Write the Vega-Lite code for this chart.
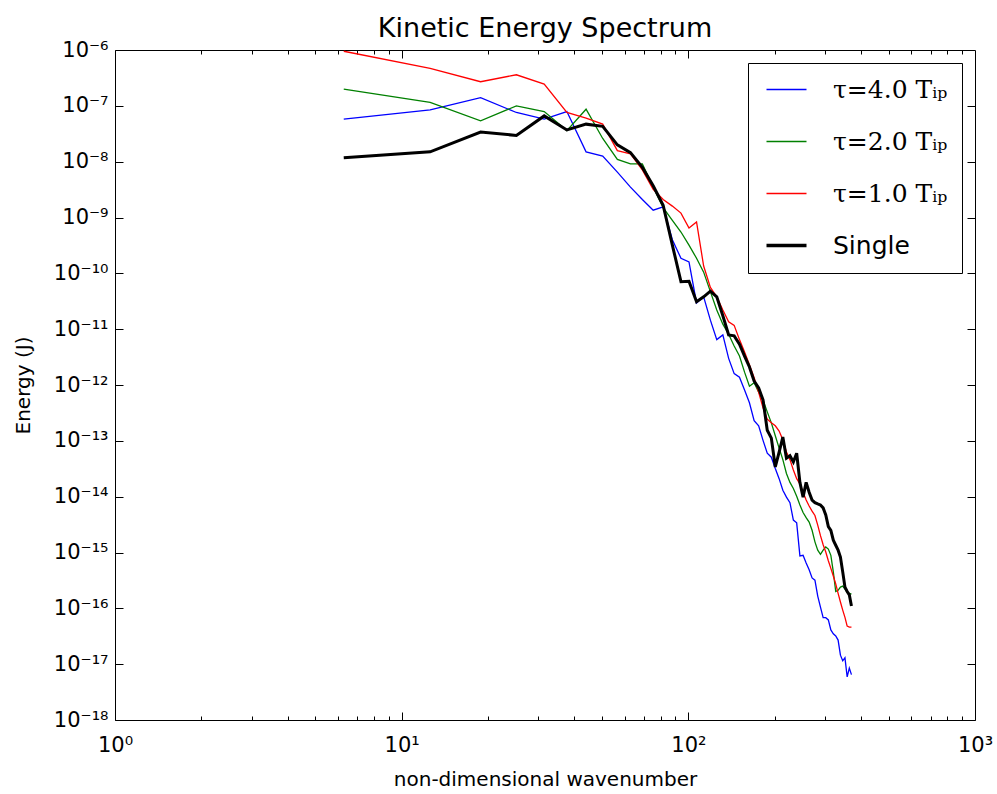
{
  "$schema": "https://vega.github.io/schema/vega-lite/v6.json",
  "autosize": "none",
  "width": 860,
  "height": 670,
  "padding": {"left": 115, "top": 50, "right": 22, "bottom": 74},
  "background": "white",
  "title": {"text": "Kinetic Energy Spectrum", "fontSize": 27, "font": "DejaVu Sans", "fontWeight": "normal", "color": "black", "offset": -4},
  "data": {"values": [
    {"k": 6.28, "t4": 5.8e-8, "t2": 2.0e-7, "t1": 9.5e-7, "s": 1.17e-8},
    {"k": 12.57, "t4": 8.5e-8, "t2": 1.15e-7, "t1": 4.7e-7, "s": 1.5e-8},
    {"k": 18.85, "t4": 1.4e-7, "t2": 5.4e-8, "t1": 2.7e-7, "s": 3.4e-8},
    {"k": 25.13, "t4": 7.6e-8, "t2": 1.0e-7, "t1": 3.6e-7, "s": 2.95e-8},
    {"k": 31.42, "t4": 5.8e-8, "t2": 7.9e-8, "t1": 2.45e-7, "s": 6.6e-8},
    {"k": 37.70, "t4": 7.9e-8, "t2": 3.6e-8, "t1": 7.6e-8, "s": 3.7e-8},
    {"k": 43.98, "t4": 1.5e-8, "t2": 8.7e-8, "t1": 6.0e-8, "s": 4.7e-8},
    {"k": 50.27, "t4": 1.26e-8, "t2": 2.6e-8, "t1": 4.7e-8, "s": 4.3e-8},
    {"k": 56.55, "t4": 6.5e-9, "t2": 1.1e-8, "t1": 1.58e-8, "s": 2.0e-8},
    {"k": 62.83, "t4": 3.5e-9, "t2": 9.1e-9, "t1": 1.38e-8, "s": 1.45e-8},
    {"k": 69.12, "t4": 2.1e-9, "t2": 9.1e-9, "t1": 7.1e-9, "s": 7.9e-9},
    {"k": 75.40, "t4": 1.35e-9, "t2": 3.5e-9, "t1": 3.2e-9, "s": 3.7e-9},
    {"k": 81.68, "t4": 1.55e-9, "t2": 1.5e-9, "t1": 2.1e-9, "s": 1.66e-9},
    {"k": 87.96, "t4": 4.0e-10, "t2": 8.9e-10, "t1": 1.6e-9, "s": 3.2e-10},
    {"k": 94.25, "t4": 1.86e-10, "t2": 5.5e-10, "t1": 1.2e-9, "s": 7.1e-11},
    {"k": 100.53, "t4": 1.6e-10, "t2": 3.2e-10, "t1": 6.5e-10, "s": 7.2e-11},
    {"k": 106.81, "t4": 2.95e-11, "t2": 1.86e-10, "t1": 8.3e-10, "s": 3.1e-11},
    {"k": 113.10, "t4": 3.8e-11, "t2": 1.05e-10, "t1": 1.35e-10, "s": 3.8e-11},
    {"k": 119.38, "t4": 1.45e-11, "t2": 4.7e-11, "t1": 5.6e-11, "s": 4.8e-11},
    {"k": 125.66, "t4": 6.5e-12, "t2": 2.2e-11, "t1": 3.8e-11, "s": 3.8e-11},
    {"k": 131.95, "t4": 7.9e-12, "t2": 1.23e-11, "t1": 2.2e-11, "s": 1.74e-11},
    {"k": 138.23, "t4": 3.0e-12, "t2": 8.1e-12, "t1": 1.35e-11, "s": 7.9e-12},
    {"k": 144.51, "t4": 1.6e-12, "t2": 5.0e-12, "t1": 1.17e-11, "s": 7.6e-12},
    {"k": 150.80, "t4": 1.38e-12, "t2": 3.3e-12, "t1": 6.5e-12, "s": 5.4e-12},
    {"k": 157.08, "t4": 8.1e-13, "t2": 1.7e-12, "t1": 3.9e-12, "s": 3.3e-12},
    {"k": 163.36, "t4": 4.8e-13, "t2": 9.5e-13, "t1": 2.3e-12, "s": 2.1e-12},
    {"k": 169.65, "t4": 2.3e-13, "t2": 1.1e-12, "t1": 1.35e-12, "s": 1.17e-12},
    {"k": 175.93, "t4": 1.86e-13, "t2": 7.4e-13, "t1": 7.4e-13, "s": 8.9e-13},
    {"k": 182.21, "t4": 1.02e-13, "t2": 5.4e-13, "t1": 3.9e-13, "s": 5.4e-13},
    {"k": 188.50, "t4": 6.0e-14, "t2": 3.3e-13, "t1": 2.45e-13, "s": 1.55e-13},
    {"k": 194.78, "t4": 5.1e-14, "t2": 2.1e-13, "t1": 2.1e-13, "s": 1.12e-13},
    {"k": 201.06, "t4": 3.2e-14, "t2": 1.23e-13, "t1": 1.86e-13, "s": 3.4e-14},
    {"k": 207.35, "t4": 2.1e-14, "t2": 7.4e-14, "t1": 1.5e-13, "s": 6.3e-14},
    {"k": 213.63, "t4": 1.3e-14, "t2": 4.6e-14, "t1": 1.05e-13, "s": 1.17e-13},
    {"k": 219.91, "t4": 9.8e-15, "t2": 2.6e-14, "t1": 6.3e-14, "s": 4.9e-14},
    {"k": 226.19, "t4": 7.8e-15, "t2": 1.8e-14, "t1": 4.6e-14, "s": 5.4e-14},
    {"k": 232.48, "t4": 3.8e-15, "t2": 1.4e-14, "t1": 3.0e-14, "s": 4.2e-14},
    {"k": 238.76, "t4": 3.4e-15, "t2": 1.02e-14, "t1": 2.1e-14, "s": 6.0e-14},
    {"k": 245.04, "t4": 8.7e-16, "t2": 7.1e-15, "t1": 1.7e-14, "s": 1.8e-14},
    {"k": 251.33, "t4": 8.9e-16, "t2": 5.2e-15, "t1": 1.2e-14, "s": 9.8e-15},
    {"k": 257.61, "t4": 6.5e-16, "t2": 4.2e-15, "t1": 8.7e-15, "s": 1.8e-14},
    {"k": 263.89, "t4": 4.9e-16, "t2": 3.5e-15, "t1": 6.8e-15, "s": 1.2e-14},
    {"k": 270.18, "t4": 3.5e-16, "t2": 2.5e-15, "t1": 5.5e-15, "s": 8.7e-15},
    {"k": 276.46, "t4": 3.2e-16, "t2": 1.55e-15, "t1": 4.6e-15, "s": 7.8e-15},
    {"k": 282.74, "t4": 1.66e-16, "t2": 1.1e-15, "t1": 3.1e-15, "s": 7.4e-15},
    {"k": 289.03, "t4": 1.05e-16, "t2": 9.3e-16, "t1": 2.0e-15, "s": 7.1e-15},
    {"k": 295.31, "t4": 6.8e-17, "t2": 1.1e-15, "t1": 1.38e-15, "s": 6.3e-15},
    {"k": 301.59, "t4": 6.8e-17, "t2": 1.26e-15, "t1": 1.02e-15, "s": 4.7e-15},
    {"k": 307.88, "t4": 6.2e-17, "t2": 1.15e-15, "t1": 7.1e-16, "s": 2.9e-15},
    {"k": 314.16, "t4": 4.1e-17, "t2": 8.9e-16, "t1": 5.2e-16, "s": 2.5e-15},
    {"k": 320.44, "t4": 3.5e-17, "t2": 4.5e-16, "t1": 3.8e-16, "s": 1.66e-15},
    {"k": 326.73, "t4": 3.2e-17, "t2": 2.0e-16, "t1": 2.75e-16, "s": 1.35e-15},
    {"k": 333.01, "t4": 2.7e-17, "t2": 2.1e-16, "t1": 1.86e-16, "s": 1.1e-15},
    {"k": 339.29, "t4": 1.45e-17, "t2": 2.4e-16, "t1": 1.3e-16, "s": 8.3e-16},
    {"k": 345.58, "t4": 1.15e-17, "t2": 2.5e-16, "t1": 9.3e-17, "s": 4.5e-16},
    {"k": 351.86, "t4": 1.3e-17, "t2": 2.2e-16, "t1": 6.9e-17, "s": 2.4e-16},
    {"k": 358.14, "t4": 5.9e-18, "t2": 1.95e-16, "t1": 4.8e-17, "s": 2.0e-16},
    {"k": 364.42, "t4": 8.5e-18, "t2": 1.86e-16, "t1": 4.6e-17, "s": 1.74e-16},
    {"k": 370.71, "t4": 6.5e-18, "t2": 1.8e-16, "t1": 4.6e-17, "s": 1.1e-16}
  ]},
  "transform": [{"fold": ["t4", "t2", "t1", "s"], "as": ["series", "E"]}],
  "config": {
    "view": {"stroke": "black", "strokeWidth": 1},
    "axis": {
      "grid": false, "domain": false,
      "labelFont": "DejaVu Sans", "labelFontSize": 21, "labelColor": "black",
      "tickColor": "black", "tickWidth": 1,
      "titleFont": "DejaVu Sans", "titleFontSize": 20, "titleFontWeight": "normal", "titleColor": "black"
    }
  },
  "resolve": {"axis": {"x": "independent", "y": "independent"}},
  "layer": [
    {
      "mark": {"type": "line", "clip": true},
      "encoding": {
        "x": {"field": "k", "type": "quantitative",
          "scale": {"type": "log", "domain": [1, 1000], "nice": false},
          "axis": {"orient": "bottom", "values": [1, 10, 100, 1000], "tickSize": -8, "labelPadding": 22,
            "labelExpr": "'10' + ['⁰','¹','²','³','⁴'][round(log(datum.value)/LN10)]",
            "title": "non-dimensional wavenumber", "titlePadding": 14, "labelFlush": false}},
        "y": {"field": "E", "type": "quantitative",
          "scale": {"type": "log", "domain": [1e-18, 1e-6], "nice": false},
          "axis": {"orient": "left", "values": [1e-18, 1e-17, 1e-16, 1e-15, 1e-14, 1e-13, 1e-12, 1e-11, 1e-10, 1e-9, 1e-8, 1e-7, 1e-6],
            "tickSize": -8, "labelPadding": 15, "labelFlush": false,
            "labelExpr": "'10⁻' + (round(-log(datum.value)/LN10) >= 10 ? ['⁰','¹','²','³','⁴','⁵','⁶','⁷','⁸','⁹'][floor(round(-log(datum.value)/LN10)/10)] : '') + ['⁰','¹','²','³','⁴','⁵','⁶','⁷','⁸','⁹'][round(-log(datum.value)/LN10) % 10]",
            "title": "Energy (J)", "titlePadding": 20}},
        "color": {"field": "series", "type": "nominal",
          "scale": {"domain": ["t4", "t2", "t1", "s"], "range": ["#0000ff", "#008000", "#ff0000", "#000000"]},
          "legend": {"title": null, "orient": "top-right", "offset": 13, "padding": 14, "symbolOffset": 12,
            "strokeColor": "black", "fillColor": "white", "cornerRadius": 0,
            "symbolType": "stroke", "symbolSize": 1600, "symbolStrokeWidth": 1.5,
            "labelFontSize": 25, "labelOffset": 34, "rowPadding": 26,
            "labelFont": "DejaVu Serif", "labelColor": "black",
            "labelExpr": "datum.value == 't4' ? 'τ=4.0 Tᵢₚ' : datum.value == 't2' ? 'τ=2.0 Tᵢₚ' : datum.value == 't1' ? 'τ=1.0 Tᵢₚ' : 'Single'",
            "encode": {
              "symbols": {"update": {"strokeWidth": {"signal": "datum.value == 's' ? 3.5 : 1.5"}}},
              "labels": {"update": {"font": {"signal": "datum.value == 's' ? 'DejaVu Sans' : 'DejaVu Serif'"}}}
            }}},
        "strokeWidth": {"condition": {"test": "datum.series == 's'", "value": 3}, "value": 1.3}
      }
    },
    {
      "mark": {"type": "point", "opacity": 0},
      "encoding": {
        "x": {"field": "k", "type": "quantitative", "scale": {"type": "log", "domain": [1, 1000], "nice": false},
          "axis": {"orient": "bottom", "values": [2, 3, 4, 5, 6, 7, 8, 9, 20, 30, 40, 50, 60, 70, 80, 90, 200, 300, 400, 500, 600, 700, 800, 900], "tickSize": -4, "labels": false, "title": null}},
        "y": {"field": "E", "type": "quantitative", "scale": {"type": "log", "domain": [1e-18, 1e-6], "nice": false},
          "axis": {"orient": "right", "values": [1e-17, 1e-16, 1e-15, 1e-14, 1e-13, 1e-12, 1e-11, 1e-10, 1e-9, 1e-8, 1e-7], "tickSize": -8, "labels": false, "title": null}}
      }
    },
    {
      "mark": {"type": "point", "opacity": 0},
      "encoding": {
        "x": {"field": "k", "type": "quantitative", "scale": {"type": "log", "domain": [1, 1000], "nice": false},
          "axis": {"orient": "top", "values": [10, 100], "tickSize": -8, "labels": false, "title": null}},
        "y": {"field": "E", "type": "quantitative", "scale": {"type": "log", "domain": [1e-18, 1e-6], "nice": false}, "axis": null}
      }
    },
    {
      "mark": {"type": "point", "opacity": 0},
      "encoding": {
        "x": {"field": "k", "type": "quantitative", "scale": {"type": "log", "domain": [1, 1000], "nice": false},
          "axis": {"orient": "top", "values": [2, 3, 4, 5, 6, 7, 8, 9, 20, 30, 40, 50, 60, 70, 80, 90, 200, 300, 400, 500, 600, 700, 800, 900], "tickSize": -4, "labels": false, "title": null}},
        "y": {"field": "E", "type": "quantitative", "scale": {"type": "log", "domain": [1e-18, 1e-6], "nice": false}, "axis": null}
      }
    }
  ]
}
